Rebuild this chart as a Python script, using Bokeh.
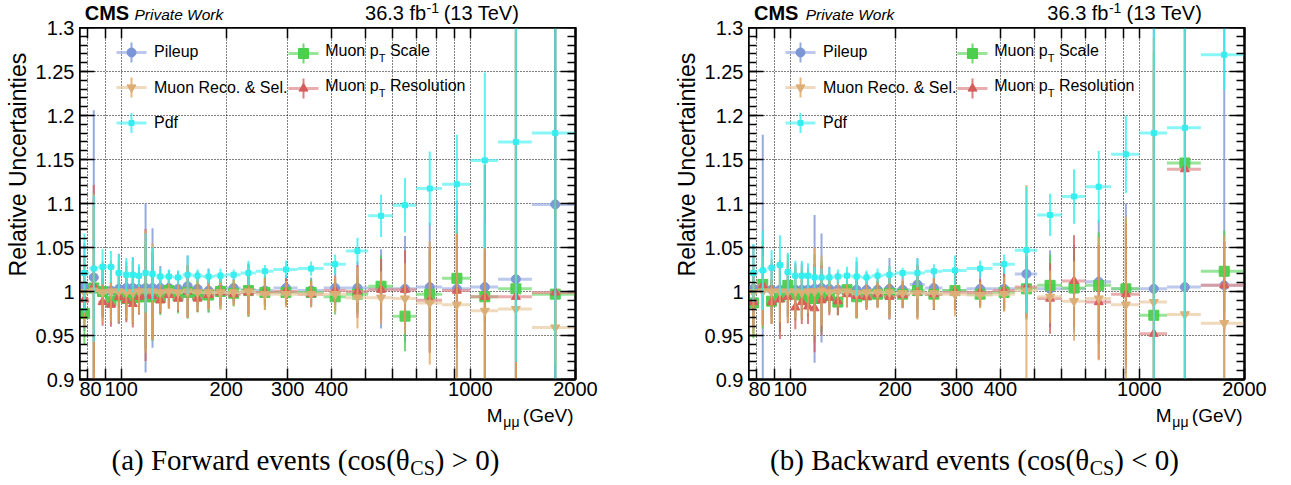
import math
from bokeh.plotting import figure
from bokeh.models import ColumnDataSource, Range1d, FixedTicker, LogAxis, LinearAxis
from bokeh.layouts import row, column
from bokeh.embed import file_html
from bokeh.resources import INLINE
from bokeh.core.properties import value

# ---------------- data ----------------
mass_edges = [76, 81, 86, 91, 96, 101, 106, 110, 115, 120, 126, 133, 141, 150, 160, 171,
              185, 200, 220, 243, 273, 320, 380, 440, 510, 600, 700, 830, 1000, 1200, 1500, 2000]

# Forward events (cos theta_CS > 0)
pileup_F = [1.005, 1.016, 1.001, 1.001, 1.003, 1.004, 1.004, 1.003, 1.004, 1.004,
            1.004, 1.004, 1.003, 1.006, 1.003, 1.001, 1.002, 1.004, 1.002, 1.001,
            1.004, 1.001, 1.004, 1.004, 1.003, 1.003, 1.005, 1.003, 1.005, 1.014, 1.099]
pileup_F_err = [0.05, 0.19, 0.03, 0.03, 0.04, 0.03, 0.035, 0.025, 0.096, 0.068,
                0.025, 0.02, 0.02, 0.035, 0.02, 0.025, 0.02, 0.015, 0.03, 0.015,
                0.015, 0.015, 0.025, 0.03, 0.045, 0.06, 0.073, 0.1, 0.04, 0.4, 0.5]
scale_F = [0.975, 1.004, 1.0, 0.989, 0.995, 0.992, 0.993, 0.994, 0.994, 0.994,
           0.993, 1.001, 0.995, 0.999, 0.996, 0.996, 1.0, 0.998, 1.001, 0.999,
           0.999, 0.999, 0.994, 0.997, 1.006, 0.972, 0.997, 1.015, 0.994, 1.003, 0.997]
scale_F_err = [0.035, 0.1, 0.03, 0.025, 0.03, 0.025, 0.03, 0.02, 0.06, 0.05,
               0.02, 0.02, 0.02, 0.03, 0.02, 0.02, 0.02, 0.015, 0.03, 0.02,
               0.015, 0.015, 0.02, 0.02, 0.035, 0.04, 0.05, 0.07, 0.15, 0.3, 0.5]
reso_F = [0.991, 1.006, 0.988, 0.985, 0.994, 0.99, 0.986, 0.994, 0.996, 0.995,
          0.99, 0.996, 0.992, 1.0, 0.992, 0.996, 0.999, 0.997, 0.999, 0.999,
          1.0, 0.997, 1.001, 1.0, 1.002, 1.002, 0.99, 1.001, 0.994, 0.994, 0.999]
reso_F_err = [0.02, 0.115, 0.027, 0.025, 0.03, 0.025, 0.027, 0.02, 0.075, 0.05,
              0.015, 0.015, 0.015, 0.03, 0.015, 0.015, 0.015, 0.012, 0.025, 0.015,
              0.015, 0.015, 0.016, 0.03, 0.035, 0.045, 0.06, 0.065, 0.15, 0.3, 0.5]
reco_F = [0.999, 1.001, 0.999, 1.0, 1.0, 0.999, 0.999, 1.0, 1.0, 1.0,
          0.999, 1.0, 0.999, 1.0, 0.999, 0.999, 0.999, 0.999, 1.0, 0.997,
          0.997, 0.997, 0.997, 0.993, 0.993, 0.992, 0.987, 0.985, 0.978, 0.98, 0.959]
reco_F_err = [0.04, 0.11, 0.035, 0.035, 0.035, 0.03, 0.035, 0.025, 0.07, 0.055,
              0.022, 0.02, 0.02, 0.03, 0.02, 0.02, 0.02, 0.015, 0.028, 0.018,
              0.015, 0.015, 0.02, 0.035, 0.03, 0.04, 0.07, 0.09, 0.1, 0.35, 0.04]
pdf_F = [1.021, 1.026, 1.028, 1.028, 1.021, 1.019, 1.019, 1.018, 1.021, 1.02,
         1.017, 1.017, 1.016, 1.019, 1.018, 1.017, 1.018, 1.019, 1.021, 1.023,
         1.025, 1.026, 1.031, 1.046, 1.086, 1.098, 1.117, 1.122, 1.149, 1.17, 1.18]
pdf_F_err = [0.045, 0.083, 0.02, 0.018, 0.021, 0.019, 0.02, 0.013, 0.045, 0.03,
             0.009, 0.008, 0.008, 0.022, 0.007, 0.008, 0.008, 0.006, 0.014, 0.007,
             0.01, 0.008, 0.011, 0.015, 0.024, 0.031, 0.042, 0.056, 0.1, 0.25, 0.45]

# Backward events (cos theta_CS < 0)
pileup_B = [1.003, 1.003, 1.002, 1.002, 1.002, 1.002, 1.002, 1.002, 1.003, 1.004,
            1.003, 1.002, 1.002, 1.002, 1.002, 1.002, 1.003, 1.002, 1.008, 1.004,
            1.001, 1.003, 1.003, 1.02, 1.003, 1.003, 1.011, 1.003, 1.003, 1.005, 1.007]
pileup_B_err = [0.05, 0.175, 0.03, 0.03, 0.03, 0.03, 0.03, 0.025, 0.084, 0.062,
                0.025, 0.02, 0.02, 0.032, 0.02, 0.02, 0.035, 0.02, 0.03, 0.02,
                0.02, 0.02, 0.025, 0.03, 0.044, 0.05, 0.07, 0.097, 0.3, 0.4, 0.6]
scale_B = [0.987, 1.008, 0.989, 0.994, 1.007, 0.997, 0.996, 0.992, 0.992, 0.994,
           0.996, 0.988, 1.002, 0.994, 0.996, 0.997, 0.998, 0.997, 1.001, 0.997,
           1.001, 0.997, 0.999, 1.003, 1.007, 1.004, 1.007, 1.003, 0.973, 1.146, 1.023]
scale_B_err = [0.04, 0.05, 0.025, 0.04, 0.035, 0.03, 0.028, 0.02, 0.05, 0.04,
               0.02, 0.015, 0.015, 0.025, 0.015, 0.015, 0.025, 0.015, 0.03, 0.018,
               0.02, 0.015, 0.02, 0.035, 0.035, 0.045, 0.06, 0.08, 0.3, 0.4, 0.046]
reso_B = [0.988, 1.007, 0.988, 0.991, 0.994, 0.982, 0.988, 0.983, 0.981, 0.99,
          0.993, 0.989, 0.997, 0.995, 0.994, 0.997, 0.994, 0.996, 0.999, 0.997,
          0.999, 0.999, 1.001, 1.005, 0.992, 1.012, 0.988, 0.997, 0.952, 1.139, 1.007]
reso_B_err = [0.03, 0.045, 0.025, 0.045, 0.03, 0.025, 0.025, 0.02, 0.05, 0.04,
              0.02, 0.016, 0.015, 0.025, 0.015, 0.015, 0.025, 0.015, 0.03, 0.018,
              0.02, 0.015, 0.02, 0.035, 0.04, 0.052, 0.065, 0.08, 0.3, 0.4, 0.05]
reco_B = [0.999, 1.0, 1.0, 1.0, 1.0, 1.0, 0.999, 1.0, 1.0, 1.001,
          0.999, 1.0, 1.0, 0.998, 0.999, 0.999, 0.999, 0.998, 0.998, 0.998,
          0.997, 0.996, 0.997, 1.001, 0.994, 0.989, 0.992, 0.985, 0.988, 0.974, 0.964]
reco_B_err = [0.05, 0.04, 0.037, 0.035, 0.035, 0.03, 0.03, 0.025, 0.05, 0.04,
              0.022, 0.018, 0.018, 0.028, 0.018, 0.018, 0.03, 0.016, 0.03, 0.018,
              0.025, 0.015, 0.02, 0.12, 0.03, 0.045, 0.07, 0.1, 0.3, 0.4, 0.1]
pdf_B = [1.021, 1.024, 1.027, 1.03, 1.022, 1.018, 1.018, 1.018, 1.016, 1.016,
         1.016, 1.017, 1.018, 1.017, 1.016, 1.018, 1.019, 1.021, 1.021, 1.023,
         1.024, 1.026, 1.031, 1.047, 1.087, 1.108, 1.119, 1.156, 1.18, 1.186, 1.269]
pdf_B_err = [0.033, 0.045, 0.02, 0.034, 0.022, 0.017, 0.017, 0.014, 0.012, 0.01,
             0.01, 0.008, 0.01, 0.022, 0.008, 0.008, 0.01, 0.006, 0.016, 0.008,
             0.017, 0.009, 0.011, 0.072, 0.024, 0.031, 0.041, 0.044, 0.3, 0.4, 0.04]

x_ticks = [80, 90, 100, 200, 300, 400, 500, 600, 700, 800, 900, 1000, 2000]
x_tick_labels = ["80", "", "100", "200", "300", "400", "", "", "", "", "", "1000", "2000"]
y_ticks = [0.9, 0.95, 1.0, 1.05, 1.1, 1.15, 1.2, 1.25, 1.3]
y_tick_labels = ["0.9", "0.95", "1", "1.05", "1.1", "1.15", "1.2", "1.25", "1.3"]

# ---------------- layout helpers ----------------
X0, X1 = 76.0, 2000.0
Y0, Y1 = 0.9, 1.3
FL, FR, FT, FB = 77.0, 573.0, 27.0, 379.0   # plot box in panel pixels (left panel reference)
FW, FH = int(FR - FL), int(FB - FT)
HEAD_H = 27
MAIN_BOTTOM = 25
MAIN_H = FH + MAIN_BOTTOM
TOP_H = HEAD_H + MAIN_H
FOOT_H = 485 - TOP_H
YAX_W = 45
MID = 0.36   # distance (in em) from the text middle anchor down to the baseline

def fx(px):
    return 10 ** (math.log10(X0) + (px - FL) / (FR - FL) * math.log10(X1 / X0))

def fy(py):
    return Y1 - (py - FT) / (FB - FT) * (Y1 - Y0)

SANS = "Liberation Sans"
SERIF = "Liberation Serif"

TIMES_W = {"(": 333, ")": 333, " ": 250, "a": 444, "b": 500, "c": 444, "d": 500, "e": 444,
           "k": 500, "n": 500, "o": 500, "r": 333, "s": 389, "t": 278, "v": 500, "w": 722,
           "F": 556, "B": 667, "θ": 500, ">": 564, "<": 564, "0": 500, "C": 667, "S": 556}

def tw(s, size):
    return sum(TIMES_W.get(c, 500) for c in s) * size / 1000.0

series = [
    # name, marker, size, marker colour, horizontal colour, vertical colour
    ("pileup", "circle", 9, "#7b96d6", "#9fb2e4", "#7b96d6"),
    ("scale", "square", 10, "#4ccf4c", "#6cd86c", "#4ccf4c"),
    ("reso", "triangle", 9, "#d65c5c", "#e08a8a", "#d65c5c"),
    ("reco", "inverted_triangle", 9, "#dcae76", "#e8caa2", "#e0a45c"),
    ("pdf", "square", 5, "#33eeee", "#55f2f2", "#33eeee"),
]
style = {s[0]: s for s in series}

panel_data = {
    "F": {"pileup": (pileup_F, pileup_F_err), "scale": (scale_F, scale_F_err),
          "reso": (reso_F, reso_F_err), "reco": (reco_F, reco_F_err), "pdf": (pdf_F, pdf_F_err)},
    "B": {"pileup": (pileup_B, pileup_B_err), "scale": (scale_B, scale_B_err),
          "reso": (reso_B, reso_B_err), "reco": (reco_B, reco_B_err), "pdf": (pdf_B, pdf_B_err)},
}


def text_fig(w, h):
    f = figure(width=w, height=h, x_range=Range1d(0, w), y_range=Range1d(0, h),
               min_border=0, toolbar_location=None, output_backend="svg",
               x_axis_location=None, y_axis_location=None)
    f.grid.visible = False
    f.outline_line_color = None
    f.background_fill_color = "white"
    f.border_fill_color = "white"
    return f


def put(f, h, x, baseline, text, size, align="left", style_="normal", font=SANS, rotate=False):
    s = float(size)
    if rotate:
        ax, ay, ang = x - MID * s, baseline, math.pi / 2
    else:
        ax, ay, ang = x, baseline - MID * s, 0.0
    f.text(x=[ax], y=[h - ay], text=[text], text_font=value(font), text_font_size="%gpx" % s,
           text_align=align, text_baseline="middle", text_font_style=style_,
           text_color="black", angle=ang)


def yaxis_fig():
    # holds only the y tick labels, so that "1.3" is not cut by the header row
    f = figure(x_range=Range1d(0, 1), y_range=Range1d(Y0, Y1), frame_width=1, frame_height=FH,
               min_border=0, min_border_left=YAX_W - 1, min_border_right=0,
               min_border_top=HEAD_H, min_border_bottom=MAIN_BOTTOM,
               toolbar_location=None, output_backend="svg", x_axis_location=None)
    f.grid.visible = False
    f.outline_line_color = None
    f.background_fill_color = "white"
    f.border_fill_color = "white"
    ax = f.yaxis[0]
    ax.ticker = FixedTicker(ticks=y_ticks, minor_ticks=[])
    ax.major_label_overrides = {t: l for t, l in zip(y_ticks, y_tick_labels)}
    ax.major_label_text_font = SANS
    ax.major_label_text_font_size = "20px"
    ax.major_label_text_color = "black"
    ax.major_label_standoff = 4
    ax.axis_line_color = None
    ax.major_tick_line_color = None
    ax.minor_tick_line_color = None
    ax.major_tick_out = 0
    ax.major_tick_in = 0
    return f


def make_main(key, border_right):
    p = figure(x_axis_type="log", x_range=Range1d(X0, X1), y_range=Range1d(Y0, Y1),
               frame_width=FW, frame_height=FH, min_border=0,
               min_border_left=0, min_border_right=border_right,
               min_border_top=0, min_border_bottom=MAIN_BOTTOM,
               output_backend="svg", toolbar_location=None)
    p.background_fill_color = "white"
    p.border_fill_color = "white"
    p.outline_line_color = "black"
    p.outline_line_width = 2

    y_minor = [round(0.9 + 0.01 * i, 2) for i in range(41)]
    p.xaxis.ticker = FixedTicker(ticks=x_ticks, minor_ticks=[])
    p.xaxis.major_label_overrides = {t: l for t, l in zip(x_ticks, x_tick_labels)}
    p.xaxis.major_label_text_font = SANS
    p.xaxis.major_label_text_font_size = "20px"
    p.xaxis.major_label_text_color = "black"
    p.xaxis.major_label_standoff = 2
    p.xaxis.major_tick_in = 11
    p.yaxis.ticker = FixedTicker(ticks=y_ticks, minor_ticks=y_minor)
    p.yaxis.major_label_overrides = {t: "" for t in y_ticks}
    p.yaxis.major_label_text_font_size = "0px"
    p.yaxis.major_label_standoff = 0
    p.yaxis.major_tick_in = 15
    p.yaxis.minor_tick_in = 8
    for ax in (p.xaxis[0], p.yaxis[0]):
        ax.axis_line_width = 2
        ax.axis_line_color = "black"
        ax.major_tick_out = 0
        ax.minor_tick_out = 0
        ax.major_tick_line_width = 1.5
        ax.minor_tick_line_width = 1.5

    top = LogAxis(ticker=FixedTicker(ticks=x_ticks, minor_ticks=[]),
                  major_label_overrides={t: "" for t in x_ticks},
                  major_label_text_font_size="0px", major_label_standoff=0,
                  major_tick_in=11, major_tick_out=0,
                  major_tick_line_width=1.5, axis_line_width=2)
    p.add_layout(top, "above")
    right = LinearAxis(ticker=FixedTicker(ticks=y_ticks, minor_ticks=y_minor),
                       major_label_overrides={t: "" for t in y_ticks},
                       major_label_text_font_size="0px", major_label_standoff=0,
                       major_tick_in=15, major_tick_out=0,
                       minor_tick_in=8, minor_tick_out=0, major_tick_line_width=1.5,
                       minor_tick_line_width=1.5, axis_line_width=2)
    p.add_layout(right, "right")

    p.xgrid.ticker = FixedTicker(ticks=x_ticks[:-1])
    p.ygrid.ticker = FixedTicker(ticks=y_ticks[1:-1])
    for g in (p.xgrid[0], p.ygrid[0]):
        g.grid_line_color = "black"
        g.grid_line_dash = "1 2"
        g.grid_line_width = 1
        g.grid_line_alpha = 1.0

    centers = [(a + b) / 2.0 for a, b in zip(mass_edges[:-1], mass_edges[1:])]
    for name, marker, size, mcol, hcol, vcol in series:
        vals, errs = panel_data[key][name]
        src = ColumnDataSource(dict(lo=mass_edges[:-1], hi=mass_edges[1:], xc=centers, v=vals,
                                    ylo=[v - e for v, e in zip(vals, errs)],
                                    yhi=[v + e for v, e in zip(vals, errs)]))
        p.segment(x0="lo", y0="v", x1="hi", y1="v", source=src, line_color=hcol,
                  line_width=3, line_alpha=0.7)
        p.segment(x0="xc", y0="ylo", x1="xc", y1="yhi", source=src, line_color=vcol,
                  line_width=2, line_alpha=0.8)
        p.scatter(x="xc", y="v", source=src, marker=marker, size=size,
                  fill_color=mcol, line_color=mcol, fill_alpha=0.95)

    # legend, drawn by hand so that the subscripts are real text
    leg = [("pileup", 129, 52, 151.5, 57, ["Pileup"]),
           ("reco", 129, 87, 151.5, 92.5, ["Muon Reco. & Sel."]),
           ("pdf", 129, 122.5, 151.5, 127.5, ["Pdf"]),
           ("scale", 301, 53, 322.7, 56, ["Muon p", "T", "Scale"]),
           ("reso", 301, 88, 322.7, 91, ["Muon p", "T", "Resolution"])]
    kw = dict(text_font=value(SANS), text_baseline="middle", text_color="black")
    for name, mx, my, tx, ty, parts in leg:
        _, marker, size, mcol, hcol, vcol = style[name]
        p.segment(x0=[fx(mx - 15)], y0=[fy(my)], x1=[fx(mx + 15)], y1=[fy(my)],
                  line_color=hcol, line_width=3, line_alpha=0.7)
        p.segment(x0=[fx(mx)], y0=[fy(my - 10)], x1=[fx(mx)], y1=[fy(my + 10)],
                  line_color=vcol, line_width=2, line_alpha=0.8)
        p.scatter(x=[fx(mx)], y=[fy(my)], marker=marker, size=size, fill_color=mcol,
                  line_color=mcol)
        p.text(x=[fx(tx)], y=[fy(ty - MID * 16)], text=[parts[0]], text_font_size="16px", **kw)
        if len(parts) > 1:
            p.text(x=[fx(tx + 53.6)], y=[fy(ty + 5 - MID * 11)], text=[parts[1]],
                   text_font_size="11px", **kw)
            p.text(x=[fx(tx + 64.7)], y=[fy(ty - MID * 16)], text=[parts[2]],
                   text_font_size="16px", **kw)
    return p


def make_panel(key, width, left, cap_left, cap_right):
    # left = pixel position of the plot box's left edge inside this panel
    dx = left - FL
    ylab_w = left - YAX_W
    right_w = width - left
    main_right = right_w - FW

    ylab = text_fig(ylab_w, TOP_H)
    put(ylab, TOP_H, 26 + dx, 29, "Relative Uncertainties", 23, align="right", rotate=True)

    head = text_fig(right_w, HEAD_H)
    hx = -FL   # header starts at the plot box's left edge
    put(head, HEAD_H, 83 + hx, 19.5, "CMS", 20, style_="bold")
    put(head, HEAD_H, 140 + hx, 19.5, "Private Work", 15.5, style_="italic")
    put(head, HEAD_H, 474 + hx, 19.5, "36.3 fb", 20, align="right")
    put(head, HEAD_H, 474.5 + hx, 12.5, "-1", 14)
    put(head, HEAD_H, 494 + hx, 19.5, "(13 TeV)", 20)

    main = make_main(key, main_right)

    foot = text_fig(width, FOOT_H)
    y0 = TOP_H
    put(foot, FOOT_H, 573 + dx, 422 - y0, "(GeV)", 19, align="right")
    put(foot, FOOT_H, 519 + dx, 426.5 - y0, "μμ", 14, align="right")
    put(foot, FOOT_H, 502 + dx, 422 - y0, "M", 19, align="right")

    fs, fsub = 29, 20
    w1 = tw(cap_left, fs)
    wcs = (667 + 556) * fsub / 1000.0
    w3 = tw(cap_right, fs)
    start = 305 + dx - (w1 + wcs + w3) / 2.0
    put(foot, FOOT_H, start, 470 - y0, cap_left, fs, font=SERIF)
    put(foot, FOOT_H, start + w1, 475 - y0, "CS", fsub, font=SERIF)
    put(foot, FOOT_H, start + w1 + wcs, 470 - y0, cap_right, fs, font=SERIF)

    top_part = row(ylab, yaxis_fig(), column(head, main))
    return column(top_part, foot)


panel_a = make_panel("F", 645, 77, "(a) Forward events (cos(θ", ") > 0)")
panel_b = make_panel("B", 646, 99, "(b) Backward events (cos(θ", ") < 0)")

layout = row(panel_a, panel_b)
open("out.html", "w").write(file_html(layout, INLINE))
